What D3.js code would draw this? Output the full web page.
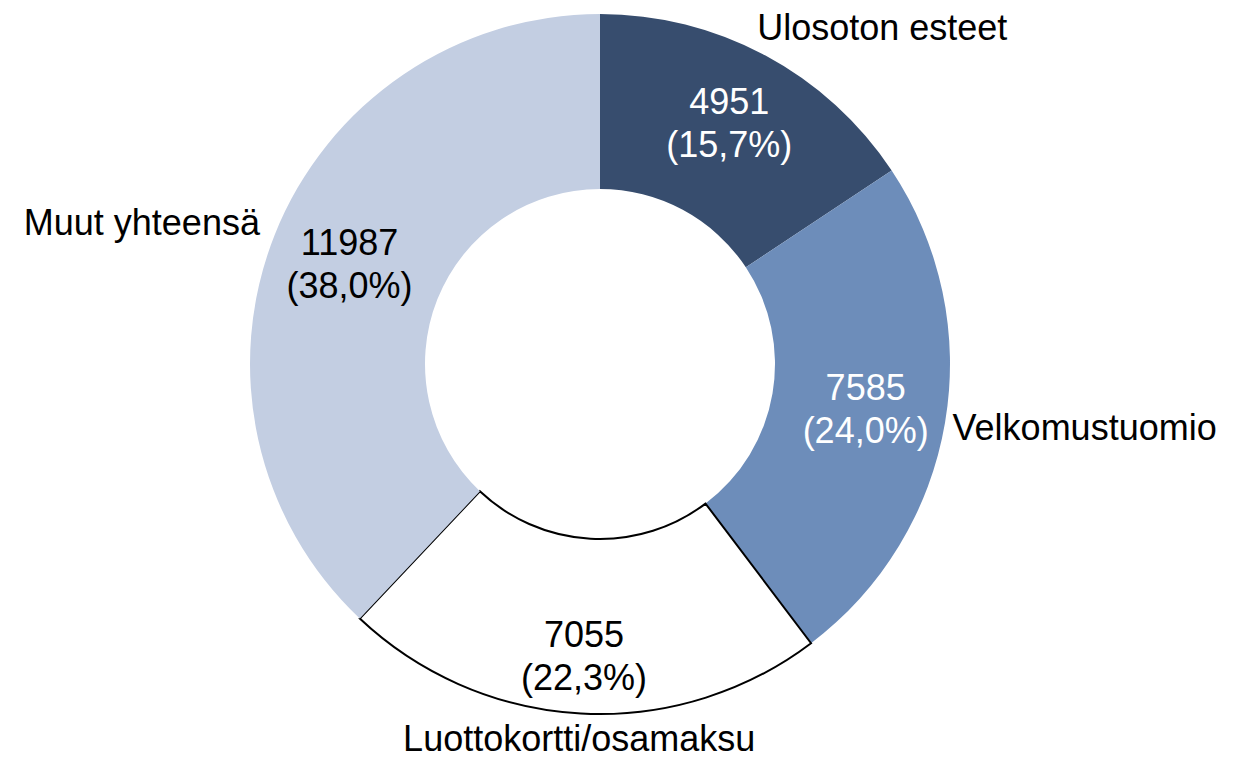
<!DOCTYPE html>
<html>
<head>
<meta charset="utf-8">
<script src="https://cdn.jsdelivr.net/npm/d3@7"></script>
<style>
  body { margin: 0; background: #fff; }
  text { font-family: "Liberation Sans", Arial, sans-serif; }
</style>
</head>
<body>
<svg id="chart"></svg>
<script>
const width = 1235;
const height = 760;

// data
const categories = ['Ulosoton esteet', 'Velkomustuomio', 'Luottokortti/osamaksu', 'Muut yhteensä'];
const values = [4951, 7585, 7055, 11987];
const shares = ['15,7%', '24,0%', '22,3%', '38,0%'];

const fills = ['#374d6e', '#6d8dba', '#ffffff', '#c3cee2'];
const valueColors = ['#fff', '#fff', '#000', '#000'];

const cx = 600, cy = 364;
const outerR = 350, innerR = 175;

const svg = d3.select('#chart')
    .attr('width', width)
    .attr('height', height);

const g = svg.append('g').attr('transform', `translate(${cx},${cy})`);

const data = categories.map((c, i) => ({ name: c, value: values[i], share: shares[i], i }));

const pie = d3.pie().value(d => d.value).sort(null);
const arc = d3.arc().innerRadius(innerR).outerRadius(outerR);
const arcs = pie(data);

g.selectAll('.slice')
  .data(arcs)
  .enter().append('path')
  .attr('class', 'slice')
  .attr('d', arc)
  .attr('fill', d => fills[d.data.i])
  .attr('stroke', d => d.data.i === 2 ? '#000' : 'none')
  .attr('stroke-width', 2);

// value labels a little outside the centroid; the top and bottom ones sit further out
function valuePos(d) {
  const a = (d.startAngle + d.endAngle) / 2;
  let r = (innerR + outerR) / 2 + 7;
  if (d.data.i === 0) r += 4;
  if (d.data.i === 2) r += 23;
  return [r * Math.sin(a), -r * Math.cos(a)];
}

const vals = g.selectAll('.val')
  .data(arcs)
  .enter().append('text')
  .attr('class', 'val')
  .attr('text-anchor', 'middle')
  .attr('font-size', 36)
  .attr('fill', d => valueColors[d.data.i])
  .attr('transform', d => `translate(${valuePos(d)})`);

vals.append('tspan').attr('x', 0).attr('y', -9).text(d => d.data.value);
vals.append('tspan').attr('x', 0).attr('y', 34).text(d => `(${d.data.share})`);

// category names outside the ring
const labelR = 381;
g.selectAll('.cat')
  .data(arcs)
  .enter().append('text')
  .attr('class', 'cat')
  .attr('font-size', 36)
  .attr('fill', '#000')
  .each(function(d) {
    const a = (d.startAngle + d.endAngle) / 2;
    const s = Math.sin(a);
    let x = labelR * s;
    let y = Math.min(-labelR * Math.cos(a) + 12, height - cy - 9);
    let anchor = 'middle';
    if (s > 0.3) { anchor = 'start'; x -= 23; }
    else if (s < -0.3) { anchor = 'end'; x += 14; }
    d3.select(this)
      .attr('x', x)
      .attr('y', y)
      .attr('text-anchor', anchor)
      .text(d.data.name);
  });
</script>
</body>
</html>
